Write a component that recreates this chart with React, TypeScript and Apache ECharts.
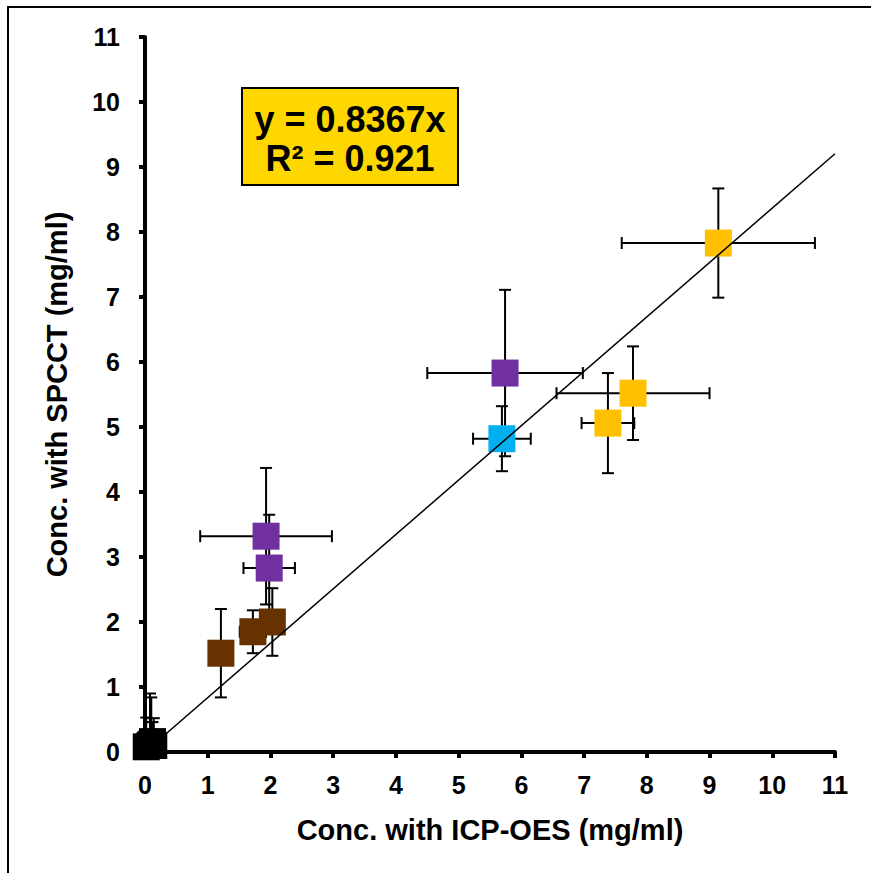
import React, { useEffect, useRef } from "react";
import * as echarts from "echarts";

// ---- data ----
const xTicks = [0, 1, 2, 3, 4, 5, 6, 7, 8, 9, 10, 11];

const yellowX = [9.14, 7.78, 7.38];
const yellowY = [7.83, 5.52, 5.06];
const yellowXErr = [1.54, 1.22, 0.42];
const yellowYErrUp = [0.84, 0.72, 0.77];
const yellowYErrDown = [0.84, 0.72, 0.77];

const cyanX = [5.69];
const cyanY = [4.82];
const cyanXErr = [0.46];
const cyanYErrUp = [0.5];
const cyanYErrDown = [0.5];

const purpleX = [5.74, 1.93, 1.98];
const purpleY = [5.83, 3.32, 2.83];
const purpleXErr = [1.24, 1.05, 0.41];
const purpleYErrUp = [1.28, 1.05, 0.82];
const purpleYErrDown = [1.28, 1.05, 0.82];

const brownX = [1.21, 1.72, 2.03];
const brownY = [1.52, 1.85, 2.0];
const brownXErr = [0, 0.21, 0];
const brownYErrUp = [0.68, 0.33, 0.52];
const brownYErrDown = [0.68, 0.33, 0.52];

const blackX = [0.02, 0.08, 0.1, 0.12, 0.14];
const blackY = [0.08, 0.1, 0.12, 0.16, 0.1];
const blackXErr = [0, 0, 0, 0, 0];
const blackYErrUp = [0.45, 0.8, 0.72, 0.3, 0.42];
const blackYErrDown = [0, 0, 0, 0, 0];

const slope = 0.8367;
const r2 = 0.921;
const trendX = [0, 11];

const groups = [
  { color: "#FFC000", x: yellowX, y: yellowY, xe: yellowXErr, yu: yellowYErrUp, yd: yellowYErrDown },
  { color: "#00B0F0", x: cyanX, y: cyanY, xe: cyanXErr, yu: cyanYErrUp, yd: cyanYErrDown },
  { color: "#7030A0", x: purpleX, y: purpleY, xe: purpleXErr, yu: purpleYErrUp, yd: purpleYErrDown },
  { color: "#663300", x: brownX, y: brownY, xe: brownXErr, yu: brownYErrUp, yd: brownYErrDown },
  { color: "#000000", x: blackX, y: blackY, xe: blackXErr, yu: blackYErrUp, yd: blackYErrDown },
];

const FONT = "'Liberation Sans', Arial, sans-serif";

export default function App() {
  const ref = useRef<HTMLDivElement>(null);
  useEffect(() => {
    if (!ref.current) return;
    const chart = echarts.init(ref.current, undefined, { renderer: "svg" });

    const errData: number[][] = [];
    groups.forEach((g) => {
      g.x.forEach((xv, i) => errData.push([xv, g.y[i], g.xe[i], g.yu[i], g.yd[i]]));
    });

    const CAP = 6;
    const lineStyle = { stroke: "#000", lineWidth: 2 };

    const series: any[] = [
      {
        type: "custom",
        name: "err",
        z: 1,
        silent: true,
        data: errData,
        renderItem: (params: any, api: any) => {
          const x = api.value(0);
          const y = api.value(1);
          const xe = api.value(2);
          const yu = api.value(3);
          const yd = api.value(4);
          const children: any[] = [];
          if (xe > 0) {
            const l = api.coord([x - xe, y]);
            const r = api.coord([x + xe, y]);
            children.push({ type: "line", shape: { x1: l[0], y1: l[1], x2: r[0], y2: r[1] }, style: lineStyle });
            children.push({ type: "line", shape: { x1: l[0], y1: l[1] - CAP, x2: l[0], y2: l[1] + CAP }, style: lineStyle });
            children.push({ type: "line", shape: { x1: r[0], y1: r[1] - CAP, x2: r[0], y2: r[1] + CAP }, style: lineStyle });
          }
          if (yu > 0 || yd > 0) {
            const t = api.coord([x, y + yu]);
            const b = api.coord([x, y - yd]);
            children.push({ type: "line", shape: { x1: t[0], y1: t[1], x2: b[0], y2: b[1] }, style: lineStyle });
            if (yu > 0)
              children.push({ type: "line", shape: { x1: t[0] - CAP, y1: t[1], x2: t[0] + CAP, y2: t[1] }, style: lineStyle });
            if (yd > 0)
              children.push({ type: "line", shape: { x1: b[0] - CAP, y1: b[1], x2: b[0] + CAP, y2: b[1] }, style: lineStyle });
          }
          return { type: "group", children };
        },
      },
    ];

    groups.forEach((g) => {
      series.push({
        type: "scatter",
        symbol: "rect",
        symbolSize: 27,
        z: 2,
        itemStyle: { color: g.color, opacity: 1 },
        data: g.x.map((xv, i) => [xv, g.y[i]]),
      });
    });

    series.push({
      type: "line",
      z: 3,
      symbol: "none",
      silent: true,
      lineStyle: { color: "#000", width: 1.5 },
      data: trendX.map((xv) => [xv, slope * xv]),
    });

    const axisCommon = {
      type: "value",
      min: 0,
      max: 11,
      interval: 1,
      splitLine: { show: false },
      axisLine: { show: true, lineStyle: { color: "#000", width: 4 } },
      axisTick: { show: true, inside: false, length: 6, lineStyle: { color: "#000", width: 4 } },
      axisLabel: { color: "#000", fontFamily: FONT, fontWeight: "bold", fontSize: 25 },
      nameLocation: "middle",
      nameTextStyle: { color: "#000", fontFamily: FONT, fontWeight: "bold", fontSize: 29 },
    };

    chart.setOption({
      animation: false,
      backgroundColor: "#fff",
      grid: { left: 145, right: 36, top: 37, bottom: 121, containLabel: false },
      xAxis: {
        ...axisCommon,
        name: "Conc. with ICP-OES (mg/ml)",
        nameGap: 63,
        axisLabel: { ...axisCommon.axisLabel, margin: 20, formatter: (v: number) => (xTicks.includes(v) ? String(v) : "") },
      },
      yAxis: {
        ...axisCommon,
        name: "Conc. with SPCCT (mg/ml)",
        nameGap: 74,
        axisLabel: { ...axisCommon.axisLabel, margin: 25 },
      },
      graphic: [
        {
          type: "rect",
          shape: { x: 8, y: 7, width: 1000, height: 1000 },
          style: { fill: "none", stroke: "#000", lineWidth: 2 },
          silent: true,
        },
        {
          type: "rect",
          shape: { x: 242, y: 88, width: 216, height: 97 },
          style: { fill: "#FFD700", stroke: "#000", lineWidth: 2 },
          z: 10,
        },
        {
          type: "text",
          x: 350,
          y: 119,
          z: 11,
          style: {
            text: `y = ${slope}x`,
            fill: "#000",
            font: `bold 36px ${FONT}`,
            align: "center",
            verticalAlign: "middle",
          },
        },
        {
          type: "text",
          x: 350,
          y: 158,
          z: 11,
          style: {
            text: `R² = ${r2}`,
            fill: "#000",
            font: `bold 36px ${FONT}`,
            align: "center",
            verticalAlign: "middle",
          },
        },
      ],
      series,
    });
    return () => chart.dispose();
  }, []);
  return (
    <div
      ref={ref}
      style={{ position: "fixed", left: 0, top: 0, width: 871, height: 873, background: "#fff" }}
    />
  );
}
